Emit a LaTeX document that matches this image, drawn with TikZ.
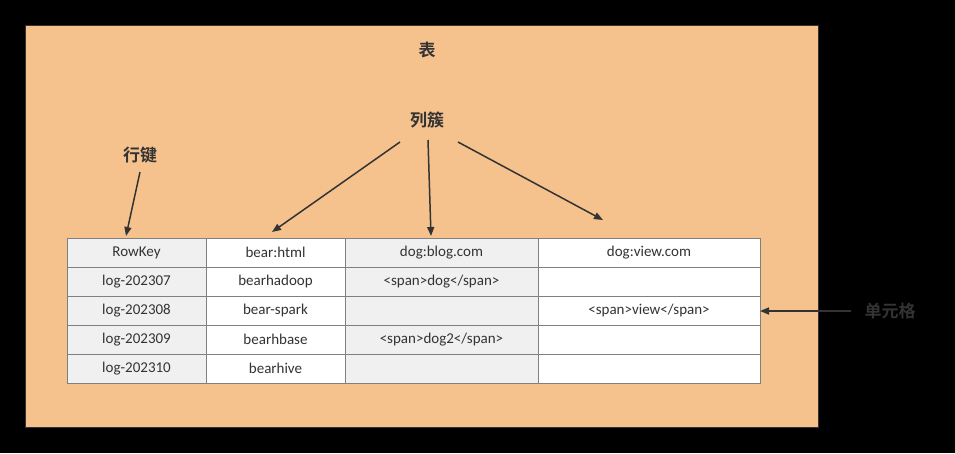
\documentclass[tikz,border=0pt]{standalone}
\usepackage{fontspec}
\setmainfont{Carlito}
\newfontfamily\cjk{Noto Sans CJK SC}[BoldFont={Noto Sans CJK SC Bold}]
\usetikzlibrary{arrows.meta}
\definecolor{bgor}{HTML}{F5C28E}
\definecolor{gcell}{HTML}{F0F0F0}
\definecolor{txt}{HTML}{333333}
\begin{document}
\begin{tikzpicture}[x=1pt,y=-1pt,
  cell/.style={draw=black!50,line width=0.8pt,inner sep=0},
  ctext/.style={text=txt,font=\fontsize{15}{18}\selectfont},
  lab/.style={text=txt,font=\cjk\bfseries\fontsize{17}{20}\selectfont},
  arr/.style={draw=txt,line width=1.5pt,-{Triangle[length=9pt,width=7pt]}}]
\fill[black] (0,0) rectangle (955,453);
\useasboundingbox (0,0) rectangle (955,453);
\draw[fill=bgor,draw=txt,line width=1pt] (25,25) rectangle (818,427);
\def\xs{{67,206,345,538,760}}
\def\ys{{238,267,296,325,354,383}}
\foreach \c/\fc in {0/gcell,1/white,2/gcell,3/white}{
  \foreach \r in {0,...,4}{
    \pgfmathsetmacro\xa{\xs[\c]}\pgfmathsetmacro\xb{\xs[\c+1]}
    \pgfmathsetmacro\ya{\ys[\r]}\pgfmathsetmacro\yb{\ys[\r+1]}
    \draw[cell,fill=\fc] (\xa,\ya) rectangle (\xb,\yb);
  }}
\node[ctext] (h1) at (136.5,252.5) {RowKey};
\node[ctext] (h2) at (275.5,252.5) {bear:html};
\node[ctext] (h3) at (441.5,252.5) {dog:blog.com};
\node[ctext] (h4) at (649,252.5) {dog:view.com};
\node[ctext] (r1) at (136.5,281.5) {log-202307};
\node[ctext] (r2) at (136.5,310.5) {log-202308};
\node[ctext] (r3) at (136.5,339.5) {log-202309};
\node[ctext] (r4) at (136.5,368.5) {log-202310};
\node[ctext] (b1) at (275.5,281.5) {bearhadoop};
\node[ctext] (b2) at (275.5,310.5) {bear-spark};
\node[ctext] (b3) at (275.5,339.5) {bearhbase};
\node[ctext] (b4) at (275.5,368.5) {bearhive};
\node[ctext] (d1) at (441.5,281.5) {<span>dog</span>};
\node[ctext] (d3) at (441.5,339.5) {<span>dog2</span>};
\node[ctext] (v2) at (649,310.5) {<span>view</span>};
\node[lab] (tbl) at (427,50) {表};
\node[lab] (cf) at (427,120) {列簇};
\node[lab] (rk) at (140,155) {行键};
\node[lab] (ce) at (890,311) {单元格};
\coordinate (rkt) at (126,236);
\coordinate (c1) at (272,232);
\coordinate (c2) at (431,236);
\coordinate (c3) at (603,220);
\coordinate (cet) at (760,311);
\draw[arr] (140,172) -- (rkt);
\draw[arr] (400,142) -- (c1);
\draw[arr] (428,140) -- (c2);
\draw[arr] (458,142) -- (c3);
\draw[arr] (ce.west)+(-10,0) -- (cet);
\end{tikzpicture}
\end{document}
